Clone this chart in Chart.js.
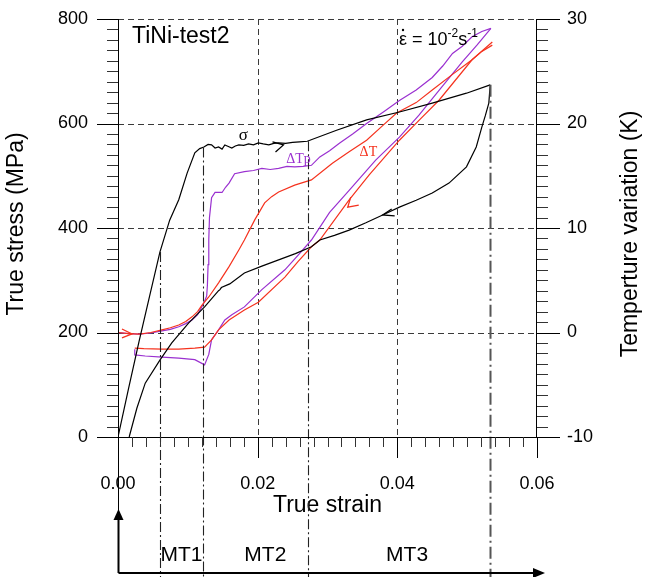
<!DOCTYPE html>
<html>
<head>
<meta charset="utf-8">
<script src="https://cdn.jsdelivr.net/npm/chart.js@4/dist/chart.umd.min.js"></script>
<style>
html,body{margin:0;padding:0;background:#fff;}
canvas{display:block;}
</style>
</head>
<body>
<canvas id="c" width="645" height="577"></canvas>
<script>
// ---------------- DATA ----------------
const strainTicks = [0, 0.02, 0.04, 0.06];
const stressTicks = [0, 200, 400, 600, 800];
const tempTicks = [-10, 0, 10, 20, 30];

// stress, loading
const sigmaLoadStrain = [0, 0.0015, 0.003, 0.0045, 0.006, 0.0074, 0.0087, 0.0099, 0.011, 0.0117, 0.0123, 0.0129, 0.0134, 0.0139, 0.0144, 0.0149, 0.0153, 0.0158, 0.0163, 0.0168, 0.0173, 0.018, 0.0187, 0.0194, 0.0201, 0.0208, 0.0216, 0.0223, 0.023, 0.024, 0.025, 0.026, 0.0271, 0.0313, 0.0356, 0.0403, 0.045, 0.0499, 0.0533];
const sigmaLoadStress = [0, 92, 182, 268, 354, 415, 454, 505, 544, 552, 555, 560, 559, 553, 555, 551, 559, 556, 553, 557, 559, 558, 561, 559, 563, 561, 559, 562, 563, 562, 564, 565, 566, 587, 607, 622, 639, 658, 674];
// stress, unloading
const sigmaUnloadStrain = [0.0533, 0.0531, 0.0526, 0.0521, 0.0513, 0.0499, 0.0474, 0.045, 0.0427, 0.0403, 0.0379, 0.0355, 0.0331, 0.031, 0.0289, 0.0277, 0.0254, 0.023, 0.0206, 0.0181, 0.016, 0.0148, 0.0146, 0.0144, 0.0124, 0.0101, 0.0077, 0.006, 0.0039, 0.0027, 0.0016];
const sigmaUnloadStress = [674, 639, 615, 593, 555, 517, 486, 467, 453, 440, 425, 410, 396, 386, 377, 364, 351, 339, 327, 314, 293, 286, 282, 280, 249, 218, 180, 147, 103, 55, 0];

// temperature dTp (purple), loading
const dTpLoadStrain = [0, 0.0015, 0.003, 0.0047, 0.0063, 0.0075, 0.0087, 0.0097, 0.0106, 0.0114, 0.012, 0.0124, 0.0127, 0.0128, 0.0129, 0.013, 0.0131, 0.0134, 0.0139, 0.0149, 0.0154, 0.0159, 0.0167, 0.0181, 0.0194, 0.0206, 0.0218, 0.023, 0.0242, 0.0253, 0.0265, 0.0277, 0.0289, 0.0303, 0.0317, 0.0336, 0.0356, 0.038, 0.0403, 0.0427, 0.045, 0.0465, 0.0479, 0.0493, 0.0507, 0.0521, 0.0534];
const dTpLoadT = [0, -0.1, -0.15, -0.05, 0.15, 0.3, 0.55, 0.85, 1.2, 1.7, 2.45, 3.0, 3.5, 4.5, 6.5, 8.9, 11.0, 12.9, 13.4, 13.4, 13.9, 14.3, 15.2, 15.4, 15.5, 15.7, 15.6, 15.7, 15.9, 15.85, 15.9, 16.0, 16.8, 17.4, 18.1, 19.0, 20.0, 21.1, 22.2, 23.2, 24.4, 25.5, 26.7, 27.4, 28.3, 28.8, 29.1];
// temperature dTp (purple), unloading
const dTpUnloadStrain = [0.0534, 0.0514, 0.0493, 0.046, 0.0431, 0.0403, 0.0369, 0.0331, 0.0303, 0.0277, 0.0258, 0.0239, 0.0206, 0.0181, 0.0163, 0.0153, 0.0144, 0.0134, 0.013, 0.0124, 0.011, 0.0087, 0.0063, 0.0039, 0.0024, 0.0024];
const dTpUnloadT = [29.1, 27.5, 25.9, 23.2, 20.8, 18.7, 16.5, 13.6, 11.5, 8.85, 7.4, 6.0, 4.1, 2.45, 1.7, 1.2, 0.25, -0.7, -2.1, -3.1, -2.6, -2.45, -2.35, -2.25, -2.15, -1.6];

// temperature dT (red), loading
const dTLoadStrain = [0, 0.0015, 0.0031, 0.0047, 0.0063, 0.0075, 0.0087, 0.0097, 0.0106, 0.0114, 0.012, 0.013, 0.0144, 0.0159, 0.0173, 0.0181, 0.0196, 0.021, 0.022, 0.023, 0.0253, 0.0277, 0.0307, 0.0331, 0.0356, 0.0379, 0.0399, 0.0427, 0.045, 0.0479, 0.0507, 0.0536];
const dTLoadT = [0, -0.1, -0.15, 0, 0.25, 0.45, 0.72, 1.05, 1.5, 2.0, 2.6, 3.4, 4.75, 6.3, 7.9, 8.85, 10.8, 12.4, 13.0, 13.45, 14.1, 14.6, 16.2, 17.3, 18.4, 19.8, 21.0, 22.0, 23.2, 24.7, 26.1, 27.8];
// temperature dT (red), unloading
const dTUnloadStrain = [0.0536, 0.0521, 0.0507, 0.046, 0.0431, 0.0403, 0.036, 0.0331, 0.0289, 0.0277, 0.0258, 0.0239, 0.0201, 0.0181, 0.0159, 0.0144, 0.0134, 0.0124, 0.011, 0.0087, 0.0063, 0.0037, 0.0024];
const dTUnloadT = [27.5, 26.9, 26.1, 22.25, 20.3, 18.4, 15.1, 12.7, 8.85, 8.2, 6.8, 5.3, 2.9, 2.15, 1.2, 0.25, -0.7, -1.4, -1.5, -1.6, -1.6, -1.55, -1.5];

// transformation stage boundaries and labels
const stageStrain = [0.006, 0.01214, 0.02714, 0.0533];
const stageLabels = ['MT1', 'MT2', 'MT3'];
const stageLabelStrain = [0.0091, 0.0211, 0.0414];

// ---------------- BUILD ----------------
const zip = (xs, ys) => xs.map((v, i) => ({x: v, y: ys[i]}));
const BLACK = '#000000', PURPLE = '#9a30d0', RED = '#f5321e';
const FONT = "'Liberation Sans', Arial, sans-serif";
const SERIF = "'Liberation Serif', 'DejaVu Serif', serif";
const TARGET_TOP = 19;

function sigmaAt(s) {
  for (let i = 1; i < sigmaLoadStrain.length; i++) {
    if (s <= sigmaLoadStrain[i]) {
      const t = (s - sigmaLoadStrain[i-1]) / (sigmaLoadStrain[i] - sigmaLoadStrain[i-1]);
      return sigmaLoadStress[i-1] + t * (sigmaLoadStress[i] - sigmaLoadStress[i-1]);
    }
  }
  return sigmaLoadStress[sigmaLoadStress.length - 1];
}

function ln(ctx, x1, y1, x2, y2) { ctx.beginPath(); ctx.moveTo(x1, y1); ctx.lineTo(x2, y2); ctx.stroke(); }
function chevron(ctx, tx, ty, arms, color) {
  ctx.save(); ctx.strokeStyle = color; ctx.lineWidth = 1.3; ctx.setLineDash([]);
  ctx.beginPath();
  ctx.moveTo(tx + arms[0][0], ty + arms[0][1]); ctx.lineTo(tx, ty); ctx.lineTo(tx + arms[1][0], ty + arms[1][1]);
  ctx.stroke(); ctx.restore();
}

const overlay = {
  id: 'overlay',
  beforeDatasetsDraw(chart) {
    const {ctx, chartArea: a, scales: {x, y}} = chart;
    ctx.save();
    ctx.strokeStyle = '#3a3a3a'; ctx.lineWidth = 1; ctx.setLineDash([6, 4]);
    stressTicks.filter(v => v > 0).forEach(v => { const p = Math.round(y.getPixelForValue(v)) + 0.5; ln(ctx, a.left, p, a.right, p); });
    strainTicks.filter(v => v > 0 && v < 0.06).forEach(v => { const p = Math.round(x.getPixelForValue(v)) + 0.5; ln(ctx, p, a.top, p, a.bottom); });
    ctx.restore();
  },
  afterDatasetsDraw(chart) {
    const {ctx, chartArea: a, scales: {x, y, y2}} = chart;
    const H = chart.height, W = chart.width;
    ctx.save();
    // stage dash-dot lines
    stageStrain.forEach((s, i) => {
      const px = Math.round(x.getPixelForValue(s)) + 0.5;
      const py = y.getPixelForValue(sigmaAt(s));
      ctx.strokeStyle = i === 3 ? '#555' : '#222';
      ctx.lineWidth = i === 3 ? 2 : 1.1;
      ctx.setLineDash(i === 3 ? [12, 4, 2, 4] : [10, 3, 2, 3]);
      ln(ctx, px, py, px, H);
    });
    ctx.setLineDash([]);
    // axis frames
    ctx.strokeStyle = '#000'; ctx.lineWidth = 1;
    const L = Math.round(a.left) + 0.5, R = Math.round(a.right) - 0.5, B = Math.round(a.bottom) + 0.5;
    ln(ctx, L, a.top, L, a.bottom + 1);
    ln(ctx, R, a.top, R, a.bottom + 1);
    ln(ctx, a.left, B, a.right, B);
    // left ticks
    for (let v = 0; v <= 800; v += 20) {
      const p = Math.round(y.getPixelForValue(v)) + 0.5;
      const major = v % 200 === 0;
      ctx.strokeStyle = major ? '#000' : '#333';
      ln(ctx, a.left - (major ? 21 : 11), p, a.left, p);
    }
    // right ticks
    for (let v = -10; v <= 30; v += 1) {
      const p = Math.round(y2.getPixelForValue(v)) + 0.5;
      const major = v % 10 === 0;
      ctx.strokeStyle = major ? '#000' : '#333';
      ln(ctx, a.right, p, a.right + (major ? 23 : 11), p);
    }
    // bottom ticks
    for (let k = 0; k <= 30; k++) {
      const v = k * 0.002;
      const p = Math.round(x.getPixelForValue(v)) + 0.5;
      const major = k % 10 === 0;
      ctx.strokeStyle = major ? '#000' : '#333';
      ln(ctx, p, a.bottom, p, a.bottom + (major ? 21 : 10));
    }
    // axis titles (both read bottom to top)
    ctx.fillStyle = '#000'; ctx.font = '23px ' + FONT; ctx.textAlign = 'center'; ctx.textBaseline = 'middle';
    ctx.save();
    ctx.translate(W - 14, (a.top + a.bottom) / 2 + 6);
    ctx.rotate(-Math.PI / 2);
    ctx.fillText('Temperture variation (K)', 0, 0);
    ctx.restore();
    ctx.save();
    ctx.translate(17, (a.top + a.bottom) / 2 - 4);
    ctx.rotate(-Math.PI / 2);
    ctx.fillText('True stress (MPa)', 0, 0);
    ctx.restore();
    // chevron arrows on curves
    chevron(ctx, x.getPixelForValue(0.0237), y.getPixelForValue(559), [[-11, -3], [-8, 7]], BLACK);
    chevron(ctx, x.getPixelForValue(0.002), y2.getPixelForValue(-0.14), [[-10, -5], [-10, 4]], RED);
    chevron(ctx, x.getPixelForValue(0.0329), y2.getPixelForValue(12.0), [[11, -2], [3, -10]], RED);
    chevron(ctx, x.getPixelForValue(0.0379), y.getPixelForValue(425), [[12, 1], [9, -6]], BLACK);
    // curve labels
    ctx.textBaseline = 'alphabetic'; ctx.textAlign = 'left';
    ctx.fillStyle = BLACK; ctx.font = '17px ' + SERIF;
    ctx.fillText('σ', x.getPixelForValue(0.0173), y.getPixelForValue(568));
    ctx.fillStyle = PURPLE; ctx.font = '14px ' + SERIF;
    ctx.fillText('ΔTp', x.getPixelForValue(0.0241), y.getPixelForValue(524));
    ctx.fillStyle = RED;
    ctx.fillText('ΔT', x.getPixelForValue(0.0346), y.getPixelForValue(538));
    // title text
    ctx.fillStyle = '#000'; ctx.font = '23px ' + FONT;
    ctx.fillText('TiNi-test2', a.left + 14, a.top + 24);
    // strain rate text
    let tx = 399; const tb = a.top + 26;
    ctx.font = '18px ' + FONT;
    ctx.fillText('ε', tx, tb);
    ctx.beginPath(); ctx.arc(tx + 4, tb - 15, 1.2, 0, Math.PI * 2); ctx.fill();
    tx += ctx.measureText('ε').width;
    ctx.fillText(' = 10', tx, tb); tx += ctx.measureText(' = 10').width;
    ctx.font = '12px ' + FONT; ctx.fillText('-2', tx, tb - 8); tx += ctx.measureText('-2').width;
    ctx.font = '18px ' + FONT; ctx.fillText('s', tx, tb); tx += ctx.measureText('s').width;
    ctx.font = '12px ' + FONT; ctx.fillText('-1', tx, tb - 8);
    // bottom stage arrows
    const ox = Math.round(x.getPixelForValue(0)) + 0.5;
    const ay = H - 4;
    ctx.strokeStyle = '#000'; ctx.fillStyle = '#000';
    ctx.lineWidth = 1; ln(ctx, ox, a.bottom, ox, 515);
    ctx.lineWidth = 2; ln(ctx, ox, 515, ox, ay);
    ctx.beginPath(); ctx.moveTo(ox, 509); ctx.lineTo(ox - 5, 520); ctx.lineTo(ox + 5, 520); ctx.closePath(); ctx.fill();
    ln(ctx, ox, ay, 535, ay);
    ctx.beginPath(); ctx.moveTo(545, ay); ctx.lineTo(533, ay - 5); ctx.lineTo(533, ay + 5); ctx.closePath(); ctx.fill();
    // stage labels
    ctx.font = '21px ' + FONT; ctx.textAlign = 'center';
    stageLabels.forEach((t, i) => ctx.fillText(t, x.getPixelForValue(stageLabelStrain[i]), 561));
    ctx.restore();
  }
};

Chart.defaults.font.family = FONT;
Chart.defaults.color = '#000';

const chart = new Chart(document.getElementById('c'), {
  type: 'line',
  data: {
    datasets: [
      {label: 'σ loading', data: zip(sigmaLoadStrain, sigmaLoadStress), borderColor: BLACK, yAxisID: 'y'},
      {label: 'σ unloading', data: zip(sigmaUnloadStrain, sigmaUnloadStress), borderColor: BLACK, yAxisID: 'y'},
      {label: 'ΔT loading', data: zip(dTLoadStrain, dTLoadT), borderColor: RED, yAxisID: 'y2'},
      {label: 'ΔT unloading', data: zip(dTUnloadStrain, dTUnloadT), borderColor: RED, yAxisID: 'y2'},
      {label: 'ΔTp loading', data: zip(dTpLoadStrain, dTpLoadT), borderColor: PURPLE, yAxisID: 'y2'},
      {label: 'ΔTp unloading', data: zip(dTpUnloadStrain, dTpUnloadT), borderColor: PURPLE, yAxisID: 'y2'}
    ]
  },
  options: {
    responsive: false,
    maintainAspectRatio: false,
    animation: false,
    layout: {padding: {top: 19, left: 0, right: 0, bottom: 0}},
    plugins: {legend: {display: false}, tooltip: {enabled: false}},
    elements: {point: {radius: 0}, line: {tension: 0, borderWidth: 1.2, fill: false}},
    scales: {
      x: {
        type: 'linear', position: 'bottom', min: 0, max: 0.06,
        afterBuildTicks: s => { s.ticks = strainTicks.map(v => ({value: v})); },
        ticks: {padding: 36, maxRotation: 0, font: {size: 18}, color: '#000', callback: v => Number(v).toFixed(2)},
        grid: {display: false, drawTicks: false}, border: {display: false},
        title: {display: true, text: 'True strain', font: {size: 23}, color: '#000', padding: {top: 0, bottom: 58}},
        afterFit: s => { s.height = 140; s.paddingLeft = 0; s.paddingRight = 0; }
      },
      y: {
        type: 'linear', position: 'left', min: 0, max: 800,
        afterBuildTicks: s => { s.ticks = stressTicks.map(v => ({value: v})); },
        ticks: {padding: 30, font: {size: 18}, color: '#000'},
        grid: {display: false, drawTicks: false}, border: {display: false},
        title: {display: false},
        afterFit: s => { s.width = 118; s.paddingTop = 0; s.paddingBottom = 0; }
      },
      y2: {
        type: 'linear', position: 'right', min: -10, max: 30,
        afterBuildTicks: s => { s.ticks = tempTicks.map(v => ({value: v})); },
        ticks: {padding: 30, font: {size: 18}, color: '#000'},
        grid: {display: false, drawTicks: false}, border: {display: false},
        title: {display: false},
        afterFit: s => { s.width = 108; s.paddingTop = 0; s.paddingBottom = 0; }
      }
    }
  },
  plugins: [overlay]
});

// nudge layout so that the plot area starts at the intended top edge
for (let i = 0; i < 5; i++) {
  const d = chart.chartArea.top - TARGET_TOP;
  if (Math.abs(d) < 0.5) break;
  chart.options.layout.padding.top = Math.max(0, chart.options.layout.padding.top - d);
  chart.update();
}
</script>
</body>
</html>
